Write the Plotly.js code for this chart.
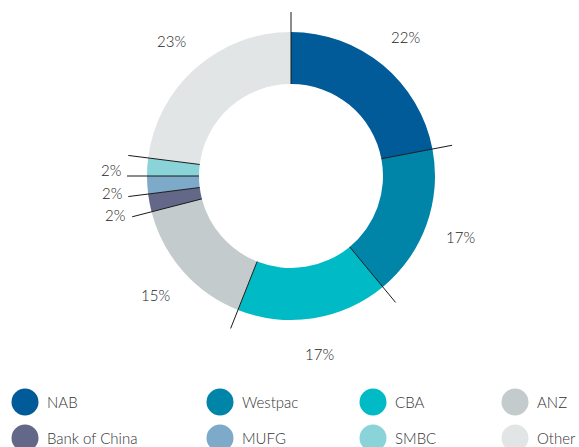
<!DOCTYPE html>
<html>
<head>
<meta charset="utf-8">
<script src="https://cdn.plot.ly/plotly-3.0.1.min.js"></script>
<style>
  html, body { margin: 0; padding: 0; background: #fff; }
  #chart { width: 579px; height: 447px; }
</style>
</head>
<body>
<div id="chart"></div>
<script>
// datos del gráfico
const bancos = ['NAB', 'Westpac', 'CBA', 'ANZ', 'Bank of China', 'MUFG', 'SMBC', 'Other'];
const porcentajes = [22, 17, 17, 15, 2, 2, 2, 23];
const colores = ['#005b98', '#0085a9', '#00bac6', '#c4cbcd', '#636888', '#7eaac9', '#8ad3d9', '#e2e5e6'];

const W = 579, H = 447;
const cx = 291, cy = 176;      // centro del anillo (px)
const rOut = 144, rIn = 92;    // radios (px)
const rLinea = 164, rTexto = 180;
const fuente = 'Lato, sans-serif';

// px -> papel
const px = x => x / W;
const py = y => 1 - y / H;

// ángulo (grados, sentido horario desde arriba) -> punto
function punto(ang, r) {
  const a = ang * Math.PI / 180;
  return [cx + r * Math.sin(a), cy - r * Math.cos(a)];
}

const total = porcentajes.reduce((a, b) => a + b, 0);
const shapes = [];
const annotations = [];

let acum = 0;
porcentajes.forEach((v, i) => {
  const ini = acum / total * 360;
  let mid = (acum + v / 2) / total * 360;
  acum += v;

  // separadores
  const p1 = punto(ini, rIn), p2 = punto(ini, rLinea);
  shapes.push({
    type: 'line', xref: 'paper', yref: 'paper',
    x0: px(p1[0]), y0: py(p1[1]), x1: px(p2[0]), y1: py(p2[1]),
    line: { color: '#1a1a1a', width: 1 }
  });

  // etiquetas (las porciones pequeñas se abren un poco)
  if (v < 5) mid -= 1.8;
  const t = punto(mid, rTexto);
  annotations.push({
    xref: 'paper', yref: 'paper', x: px(t[0]), y: py(t[1]),
    text: v + '%', showarrow: false, xanchor: 'center', yanchor: 'middle',
    font: { family: fuente, size: 15, color: '#222', weight: 300 }
  });
});

// leyenda hecha a mano (círculos)
const colX = [25, 220, 373, 515];
const filaY = [402, 438];
const rad = 13.5;
bancos.forEach((b, i) => {
  const x = colX[i % 4], y = filaY[Math.floor(i / 4)];
  shapes.push({
    type: 'circle', xref: 'paper', yref: 'paper',
    x0: px(x - rad), x1: px(x + rad), y0: py(y + rad), y1: py(y - rad),
    fillcolor: colores[i], line: { width: 0 }
  });
  annotations.push({
    xref: 'paper', yref: 'paper', x: px(x + 20), y: py(y),
    text: b, showarrow: false, xanchor: 'left', yanchor: 'middle',
    font: { family: fuente, size: 15, color: '#333', weight: 300 }
  });
});

const anillo = {
  type: 'pie',
  labels: bancos,
  values: porcentajes,
  hole: rIn / rOut,
  sort: false,
  direction: 'clockwise',
  rotation: 0,
  textinfo: 'none',
  hoverinfo: 'label+percent',
  marker: { colors: colores, line: { width: 0 } },
  domain: {
    x: [px(cx - rOut), px(cx + rOut)],
    y: [py(cy + rOut), py(cy - rOut)]
  },
  showlegend: false
};

Plotly.newPlot('chart', [anillo], {
  width: W, height: H,
  margin: { l: 0, r: 0, t: 0, b: 0 },
  paper_bgcolor: '#fff',
  showlegend: false,
  shapes: shapes,
  annotations: annotations
}, { displayModeBar: false, staticPlot: true });
</script>
</body>
</html>
